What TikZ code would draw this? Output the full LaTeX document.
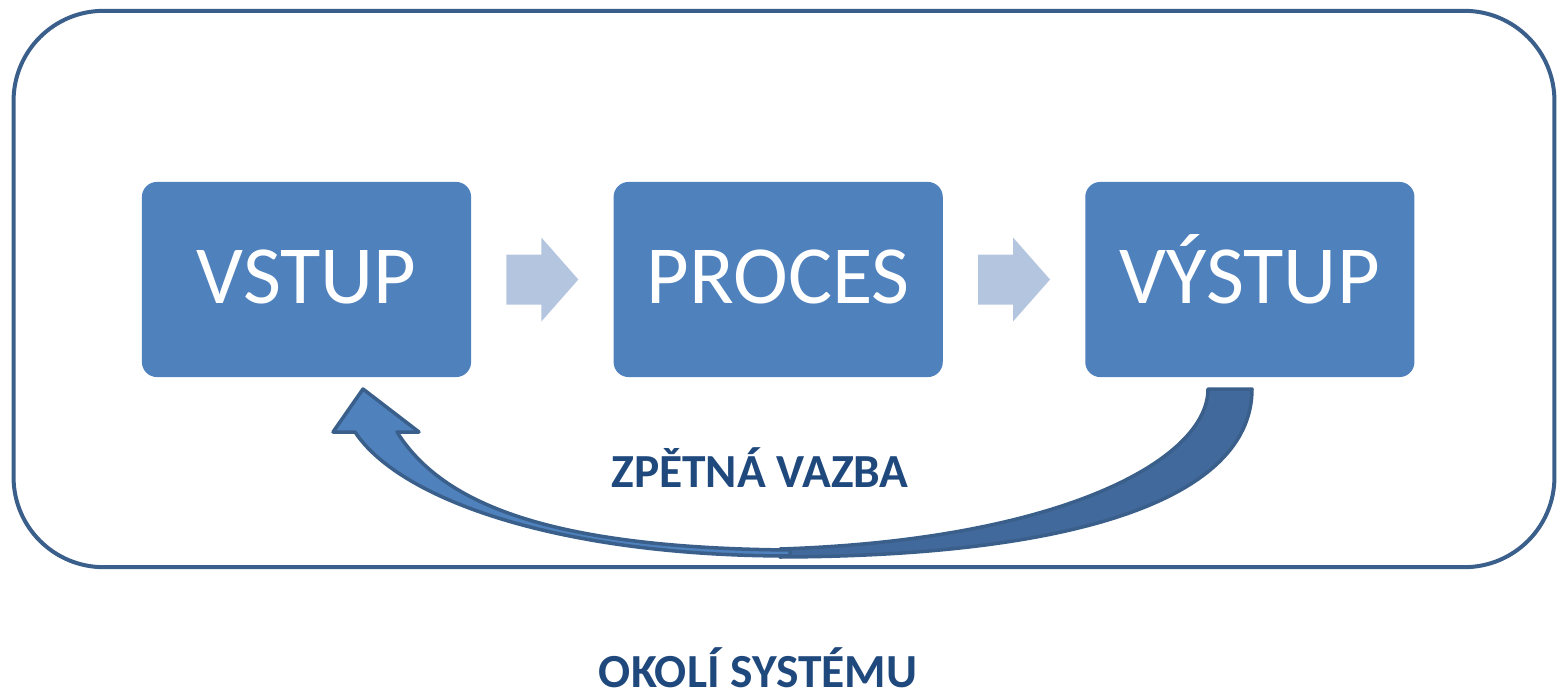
\documentclass[tikz,border=0pt]{standalone}
\usepackage{fontspec}
\setmainfont{Carlito}
\usetikzlibrary{positioning}
\definecolor{boxblue}{RGB}{79,129,189}
\definecolor{ramblue}{RGB}{58,95,139}
\definecolor{svetla}{RGB}{180,197,223}
\definecolor{tmava}{RGB}{65,105,155}
\definecolor{textblue}{RGB}{31,73,125}
\tikzset{
	krok/.style={fill=boxblue, rounded corners=0.15cm, minimum width=3.29cm, minimum height=1.95cm, inner sep=0pt, text=white, font=\fontsize{23.5}{28}\selectfont, text height=0.53cm, text depth=0.06cm},
	okraj/.style={draw=ramblue, line width=0.04cm, rounded corners=0.9cm, minimum width=15.40cm, minimum height=5.56cm},
	blok/.style={fill=svetla},
	popis/.style={text=textblue, font=\fontsize{13.5}{16}\selectfont\bfseries, inner sep=0pt},
	vazba/.style={draw=ramblue, line width=0.035cm, line join=round}
}
\begin{document}
\begin{tikzpicture}[x=0.01cm,y=-0.01cm]
				\useasboundingbox (0,0) rectangle (1557,694);
				\node[okraj] (okoli) at (784,289) {};
				\node[krok] (vstup) at (306.5,279.5) {VSTUP};
				\node[krok, right=1.41cm of vstup] (proces) {PROCES};
				\node[krok, right=1.41cm of proces] (vystup) {VÝSTUP};
				% sipky mezi kroky
				\foreach \a/\b in {vstup/proces, proces/vystup}{
					\path (\a.east) -- (\b.west) coordinate[midway] (stred);
					\fill[blok, shift={(stred)}] (-36,-25) -- (-1,-25) -- (-1,-42) -- (36,0) -- (-1,42) -- (-1,25) -- (-36,25) -- cycle;
				}
				% zpetna vazba
				\draw[vazba, fill=tmava] (1208,389) -- (1252,389) .. controls (1252,490) and (1100,556) .. (780,557) -- (780,549) .. controls (1060,540) and (1208,460) .. (1208,389) -- cycle;
				\draw[vazba, fill=boxblue] (790,556) .. controls (560,556) and (400,500) .. (355,432) -- (333,432) -- (363,389) -- (419,432) -- (397,432) .. controls (440,500) and (540,548) .. (790,550) -- cycle;
				\node[popis, anchor=base] (zpetna) at (760,487) {ZPĚTNÁ VAZBA};
				\node[popis, anchor=base] (okolilabel) at (758,687) {OKOLÍ SYSTÉMU};
				\end{tikzpicture}
\end{document}
